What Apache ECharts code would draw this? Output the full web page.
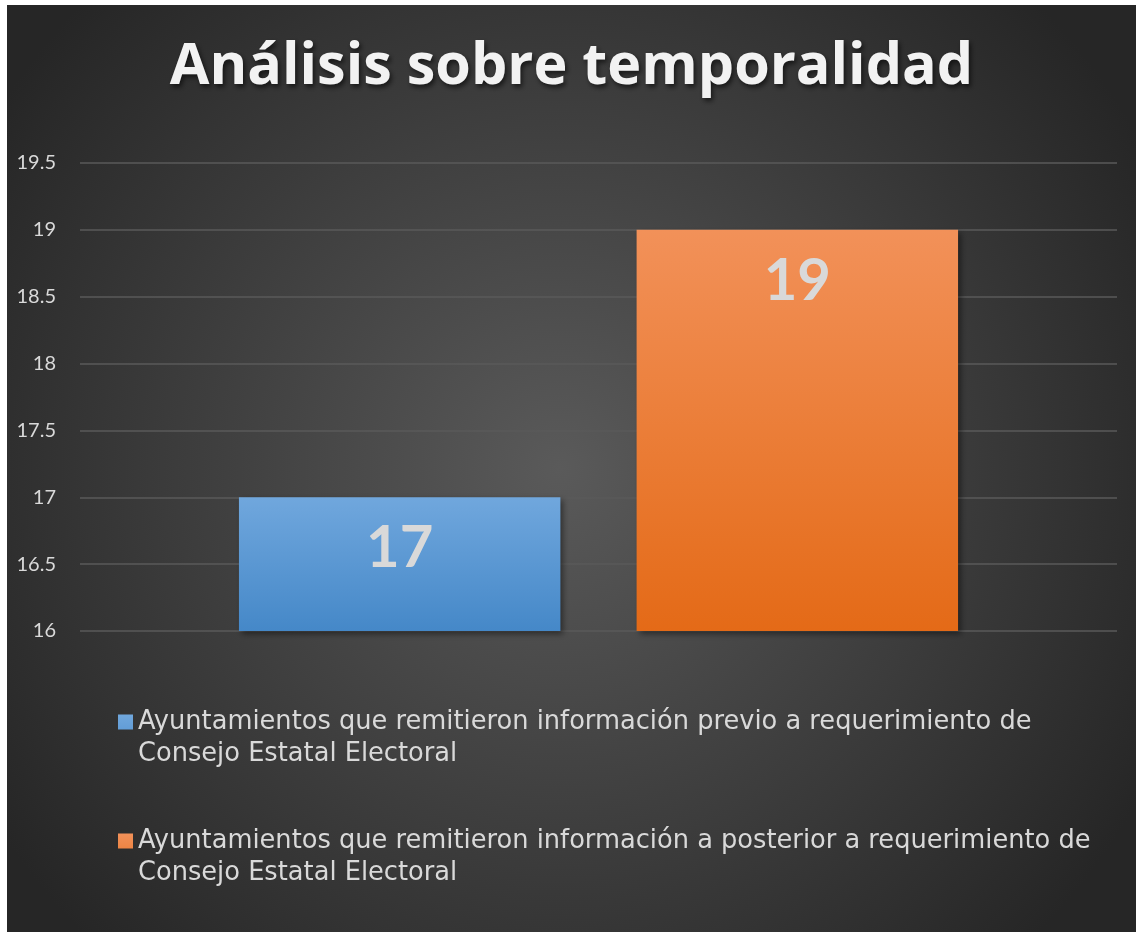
<!DOCTYPE html>
<html>
<head>
<meta charset="utf-8">
<title>Análisis sobre temporalidad</title>
<script src="https://cdn.jsdelivr.net/npm/echarts@6/dist/echarts.min.js"></script>
<style>
  html, body { margin: 0; padding: 0; background: #ffffff; }
  #chart { position: absolute; left: 7px; top: 5px; width: 1129px; height: 927px; }
</style>
</head>
<body>
<div id="chart"></div>
<script>
// chart data
const titleText = 'Análisis sobre temporalidad'
const categories = ['Temporalidad']
const seriesNames = [
  'Ayuntamientos que remitieron información previo a requerimiento de Consejo Estatal Electoral',
  'Ayuntamientos que remitieron información a posterior a requerimiento de Consejo Estatal Electoral'
]
const previoValues = [17]
const posteriorValues = [19]
const yTicks = [16, 16.5, 17, 17.5, 18, 18.5, 19, 19.5]

const chart = echarts.init(document.getElementById('chart'))

function vGrad(top, bottom) {
  return new echarts.graphic.LinearGradient(0, 0, 0, 1, [
    { offset: 0, color: top },
    { offset: 1, color: bottom }
  ])
}

const labelStyle = {
  show: true,
  position: 'insideTop',
  distance: 22,
  color: '#d9d9d9',
  fontFamily: 'Lato',
  fontWeight: 'bold',
  fontSize: 58
}

const barShadow = {
  shadowBlur: 6,
  shadowColor: 'rgba(0,0,0,0.45)',
  shadowOffsetX: 3,
  shadowOffsetY: 3
}

// square sitting at the top of a taller box, so it lines up with the first text line
const legendIcon = 'path://M0,0H15V15H0Z M0,47L0.01,47'

chart.setOption({
  backgroundColor: new echarts.graphic.RadialGradient(0.49, 0.5, 0.72, [
    { offset: 0, color: '#5a5a5a' },
    { offset: 1, color: '#262626' }
  ]),
  animation: false,
  title: {
    text: titleText,
    left: 'center',
    top: 29,
    textStyle: {
      color: '#f2f2f2',
      fontFamily: 'Open Sans',
      fontWeight: 'bold',
      fontSize: 57.5,
      textShadowColor: 'rgba(0,0,0,0.6)',
      textShadowBlur: 5,
      textShadowOffsetX: 2,
      textShadowOffsetY: 3
    }
  },
  legend: {
    orient: 'vertical',
    left: 106,
    top: 696,
    itemWidth: 15,
    itemHeight: 47,
    itemGap: 55,
    icon: legendIcon,
    itemStyle: { borderWidth: 0 },
    formatter: name => name.replace(' Consejo', '\nConsejo'),
    textStyle: {
      color: '#d9d9d9',
      fontFamily: 'DejaVu Sans',
      fontSize: 25.7,
      lineHeight: 32
    }
  },
  grid: {
    left: 73,
    right: 19,
    top: 158,
    bottom: 301
  },
  xAxis: {
    type: 'category',
    data: categories,
    axisLine: { show: false },
    axisTick: { show: false },
    axisLabel: { show: false }
  },
  yAxis: {
    type: 'value',
    min: yTicks[0],
    max: yTicks[yTicks.length - 1],
    interval: 0.5,
    axisLine: { show: false },
    axisTick: { show: false },
    axisLabel: {
      color: '#d9d9d9',
      fontFamily: 'Lato',
      fontSize: 20,
      margin: 24
    },
    splitLine: {
      lineStyle: { color: '#5a5a5a', width: 1.5 }
    }
  },
  series: [
    {
      name: seriesNames[0],
      type: 'bar',
      data: previoValues,
      barWidth: '31%',
      barGap: '23.7%',
      itemStyle: Object.assign({ color: vGrad('#70a7dd', '#4588c8') }, barShadow),
      label: labelStyle
    },
    {
      name: seriesNames[1],
      type: 'bar',
      data: posteriorValues,
      barWidth: '31%',
      barGap: '23.7%',
      itemStyle: Object.assign({ color: vGrad('#f29159', '#e46a17') }, barShadow),
      label: labelStyle
    }
  ]
})
</script>
</body>
</html>
